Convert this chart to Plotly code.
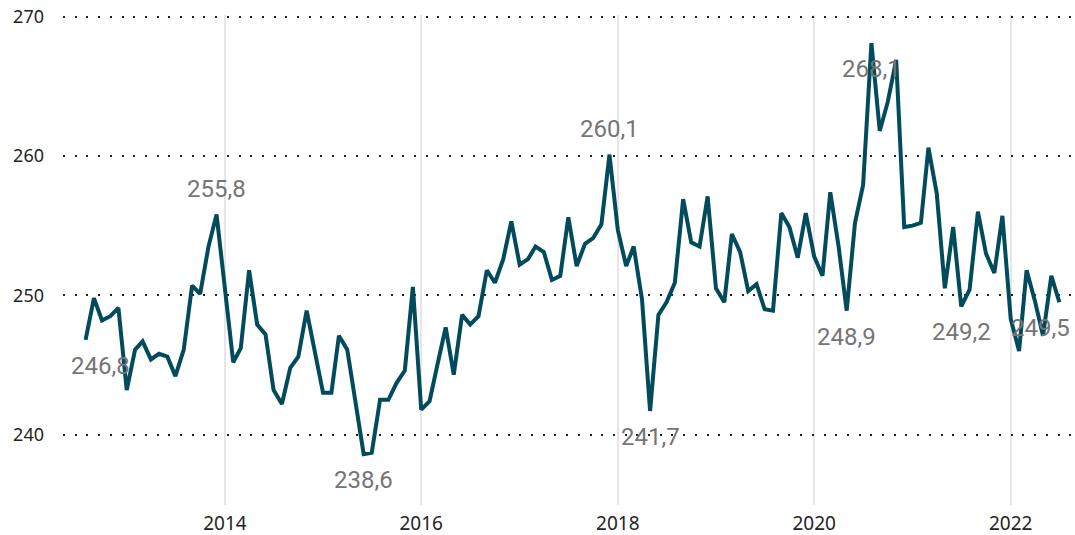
import plotly.graph_objects as go
import pandas as pd

dates = pd.date_range("2012-08-01", "2022-07-01", freq="MS")

values = [
    246.8, 249.8, 248.2, 248.5, 249.1,                      # 2012 Aug-Dec
    243.2, 246.1, 246.7, 245.4, 245.8, 245.6, 244.2, 246.1, 250.7, 250.1, 253.5, 255.8,  # 2013
    250.3, 245.2, 246.2, 251.8, 247.9, 247.2, 243.2, 242.2, 244.8, 245.6, 248.9, 246.0,  # 2014
    243.0, 243.0, 247.1, 246.1, 242.3, 238.6, 238.7, 242.5, 242.5, 243.7, 244.6, 250.6,  # 2015
    241.8, 242.4, 245.0, 247.7, 244.3, 248.6, 247.9, 248.5, 251.8, 250.9, 252.6, 255.3,  # 2016
    252.2, 252.6, 253.5, 253.1, 251.1, 251.4, 255.6, 252.1, 253.7, 254.1, 255.1, 260.1,  # 2017
    254.7, 252.1, 253.5, 249.7, 241.7, 248.6, 249.5, 250.9, 256.9, 253.8, 253.5, 257.1,  # 2018
    250.5, 249.5, 254.4, 253.1, 250.3, 250.8, 249.0, 248.9, 255.9, 254.9, 252.7, 255.9,  # 2019
    252.8, 251.4, 257.4, 253.5, 248.9, 255.2, 257.9, 268.1, 261.8, 263.9, 266.9, 254.9,  # 2020
    255.0, 255.2, 260.6, 257.3, 250.5, 254.9, 249.2, 250.4, 256.0, 253.0, 251.6, 255.7,  # 2021
    248.3, 246.0, 251.8, 249.6, 247.1, 251.4, 249.5,                                      # 2022 Jan-Jul
]

# labelled points: (index into series, position)
label_idx = [0, 16, 34, 64, 69, 93, 96, 107, 119]
label_pos = ["below", "above", "below", "above", "below", "below", "below", "below", "below"]
label_xshift = [15, 0, 0, 0, 0, 0, 0, 0, -19]

y_ticks = [240, 250, 260, 270]
x_ticks = ["2014-01-01", "2016-01-01", "2018-01-01", "2020-01-01", "2022-01-01"]
x_ticklabels = ["2014", "2016", "2018", "2020", "2022"]

LINE = "#024B5C"

fig = go.Figure()
fig.add_trace(go.Scatter(
    x=dates, y=values, mode="lines",
    line=dict(color=LINE, width=4),
    hoverinfo="x+y", showlegend=False,
))

for i, pos, xs in zip(label_idx, label_pos, label_xshift):
    fig.add_annotation(
        x=dates[i], y=values[i],
        text=f"{values[i]:.1f}".replace(".", ","),
        showarrow=False,
        xshift=xs,
        yshift=26 if pos == "above" else -26,
        font=dict(family="Roboto", size=24, color="#757575"),
    )

fig.update_layout(
    width=1075, height=535,
    margin=dict(l=63, r=0, t=15, b=30, autoexpand=False),
    paper_bgcolor="white", plot_bgcolor="white",
    font=dict(family="Noto Sans", color="#252423"),
    xaxis=dict(
        range=["2012-05-09", "2022-08-28"],
        tickvals=x_ticks, ticktext=x_ticklabels,
        showgrid=True, gridcolor="#E6E6E6", gridwidth=2,
        zeroline=False, showline=False,
        tickfont=dict(size=19, color="#252423"),
        ticks="", ticklabelstandoff=5,
    ),
    yaxis=dict(
        range=[234.95, 270.12],
        tickvals=y_ticks,
        showgrid=True, gridcolor="#222222", gridwidth=2,
        griddash="2px,9.7px",
        zeroline=False, showline=False,
        tickfont=dict(size=18, color="#252423"),
        ticks="", ticklabelstandoff=18,
    ),
)

fig.write_html("out.html", config={"displayModeBar": False})

# remove default page margin so the figure sits at the window's top-left corner
with open("out.html", encoding="utf-8") as f:
    html = f.read()
html = html.replace("<head>", "<head><style>html,body{margin:0;padding:0;overflow:hidden;}</style>", 1)
with open("out.html", "w", encoding="utf-8") as f:
    f.write(html)
